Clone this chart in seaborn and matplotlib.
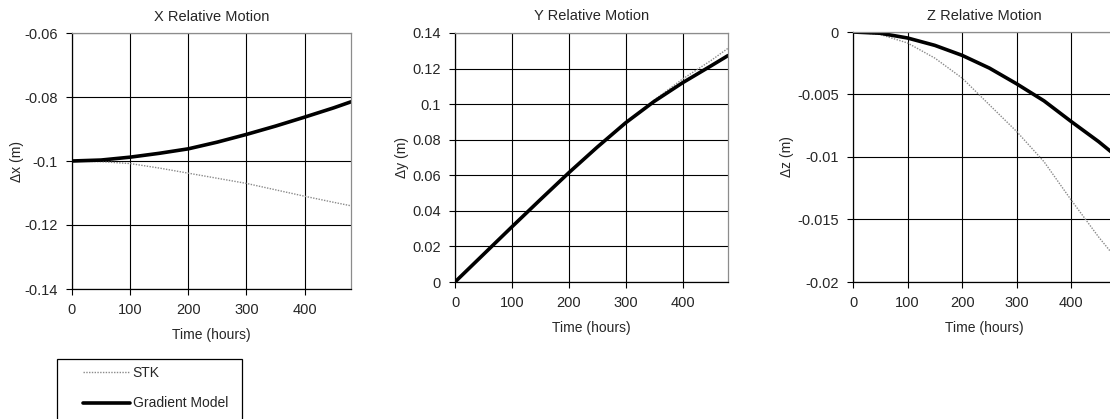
import pandas as pd
import numpy as np
import seaborn as sns
import matplotlib.pyplot as plt
from matplotlib.patches import Rectangle

# time grid (hours)
hours = [0, 50, 100, 150, 200, 250, 300, 350, 400, 450, 480]

# X relative motion (m)
x_stk = [-0.1, -0.1002, -0.1008, -0.1022, -0.1038, -0.1054, -0.1070, -0.1090, -0.1110, -0.1129, -0.1140]
x_grad = [-0.1, -0.0997, -0.0988, -0.0976, -0.0962, -0.0941, -0.0917, -0.0891, -0.0863, -0.0834, -0.0815]

# Y relative motion (m)
y_stk = [0.0, 0.0155, 0.0310, 0.0463, 0.0614, 0.0758, 0.0895, 0.1022, 0.1141, 0.1245, 0.1314]
y_grad = [0.0, 0.0155, 0.0310, 0.0463, 0.0614, 0.0758, 0.0895, 0.1015, 0.1120, 0.1215, 0.1273]

# Z relative motion (m)
z_stk = [0.0, -0.0002, -0.00088, -0.00209, -0.00369, -0.00583, -0.00797, -0.01038, -0.01346, -0.0164, -0.0180]
z_grad = [0.0, -0.0001, -0.00048, -0.00107, -0.00187, -0.00289, -0.00415, -0.00551, -0.00717, -0.00877, -0.00984]

titles = ['X Relative Motion', 'Y Relative Motion', 'Z Relative Motion']
ylabels = ['\u0394x (m)', '\u0394y (m)', '\u0394z (m)']
ylims = [(-0.14, -0.06), (0, 0.14), (-0.02, 0)]
yticks = [[-0.14, -0.12, -0.1, -0.08, -0.06],
          [0, 0.02, 0.04, 0.06, 0.08, 0.1, 0.12, 0.14],
          [-0.02, -0.015, -0.01, -0.005, 0]]
yticklabels = [['-0.14', '-0.12', '-0.1', '-0.08', '-0.06'],
               ['0', '0.02', '0.04', '0.06', '0.08', '0.1', '0.12', '0.14'],
               ['-0.02', '-0.015', '-0.01', '-0.005', '0']]
xticks = [0, 100, 200, 300, 400]

sns.set_style('white')
plt.rcParams['font.family'] = ['Liberation Sans', 'DejaVu Sans']
plt.rcParams['font.size'] = 10

W, H = 1110, 419
fig = plt.figure(figsize=(W / 100, H / 100), dpi=100)

# axes boxes in pixels: left, top, right, bottom
boxes = [(72, 33, 351, 289), (455, 33, 728, 282), (853, 32, 1115, 282)]
# x pixel of the y-label centre in each panel
ylabel_x = [18, 403, 788]

stk_series = [x_stk, y_stk, z_stk]
grad_series = [x_grad, y_grad, z_grad]

axes = []
for i in range(3):
    l, t, r, b = boxes[i]
    ax = fig.add_axes([l / W, 1 - b / H, (r - l) / W, (b - t) / H])
    df = pd.DataFrame({'Time (hours)': hours, 'STK': stk_series[i], 'Gradient Model': grad_series[i]})
    sns.lineplot(data=df, x='Time (hours)', y='STK', ax=ax, color='#8a8a8a',
                 linestyle=(0, (1, 1)), linewidth=1.0, label='STK', legend=False)
    sns.lineplot(data=df, x='Time (hours)', y='Gradient Model', ax=ax, color='black',
                 linewidth=2.6, label='Gradient Model', legend=False)
    ax.set_xlim(0, 480)
    ax.set_ylim(*ylims[i])
    ax.set_xticks(xticks)
    ax.set_yticks(yticks[i])
    ax.set_yticklabels(yticklabels[i])
    ax.grid(True, color='black', linewidth=0.8)
    ax.set_axisbelow(True)
    ax.set_title(titles[i], fontsize=10.5, pad=9)
    ax.set_xlabel('Time (hours)', fontsize=10, labelpad=8)
    ax.set_ylabel(ylabels[i], fontsize=10)
    # label anchor is its right side when rotated, so shift by half the text height
    ax.yaxis.set_label_coords((ylabel_x[i] + 6 - l) / (r - l), 0.5)
    ax.tick_params(axis='both', direction='out', length=4, width=0.8, color='black',
                   labelsize=10.5, bottom=True, left=True, pad=6)
    for s in ['left', 'bottom']:
        ax.spines[s].set_color('black')
        ax.spines[s].set_linewidth(0.9)
    for s in ['top', 'right']:
        ax.spines[s].set_color('#8c8c8c')
        ax.spines[s].set_linewidth(0.9)
    axes.append(ax)

# legend box like the original, partly cut at the bottom
fig.patches.append(Rectangle((57 / W, 1 - 425 / H), (242 - 57) / W, (425 - 359) / H,
                             transform=fig.transFigure, fill=False, edgecolor='black',
                             linewidth=0.9))
handles, labels = axes[0].get_legend_handles_labels()
fig.legend(handles, labels, loc='upper left', bbox_to_anchor=(80 / W, 1 - 363 / H),
           frameon=False, fontsize=10, handlelength=3.4, handletextpad=0.2,
           labelspacing=1.2, borderpad=0.2, borderaxespad=0)

fig.savefig('out.png', dpi=100, facecolor='white')
